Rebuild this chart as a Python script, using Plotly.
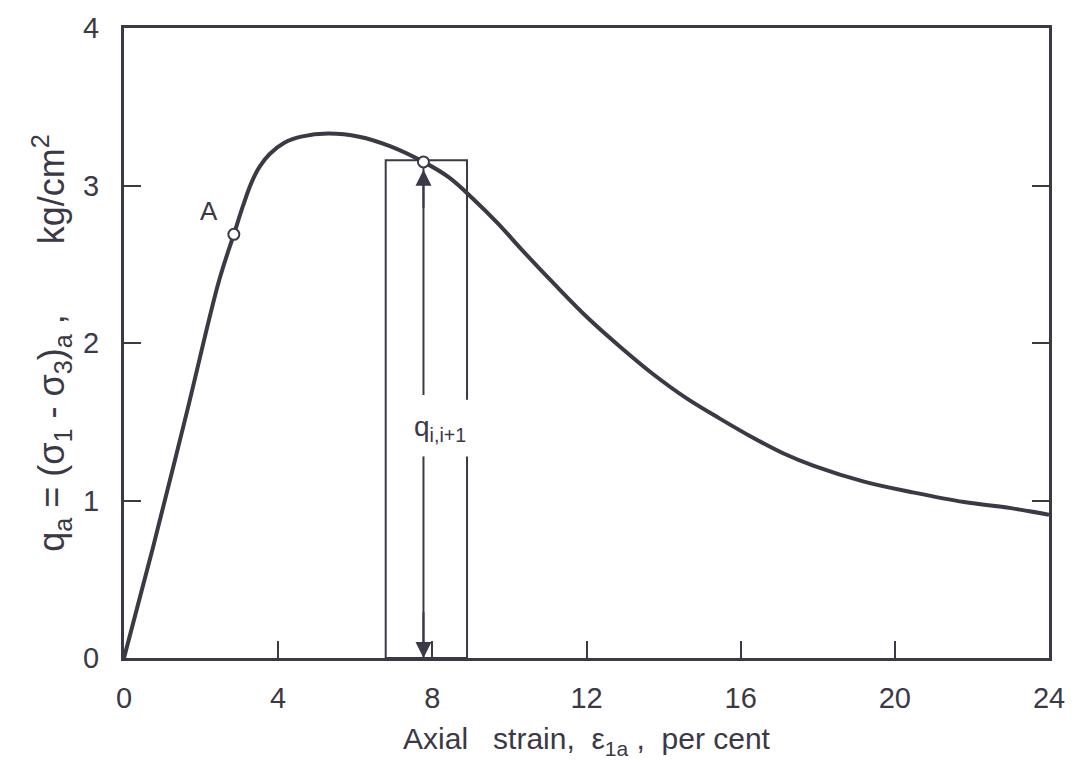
import plotly.graph_objects as go

# ---- data ----
strain = [0, 0.75, 1.62, 2.46, 2.85, 3.1, 3.31, 3.52, 3.78, 4.15, 4.6, 5.3, 6.1,
          6.9, 7.77, 8.44, 9.08, 9.7, 10.33, 11.18, 12.03, 12.9, 13.74, 14.59,
          15.46, 16.31, 17.1, 17.9, 19.2, 20.5, 21.8, 23.05, 24.0]
stress = [0, 0.70, 1.55, 2.39, 2.69, 2.88, 3.02, 3.12, 3.20, 3.27, 3.31, 3.33, 3.31,
          3.25, 3.15, 3.05, 2.91, 2.76, 2.59, 2.37, 2.16, 1.97, 1.80, 1.65,
          1.52, 1.40, 1.30, 1.22, 1.12, 1.05, 0.99, 0.95, 0.91]

marked_x = [2.85, 7.77]
marked_y = [2.69, 3.15]

rect_left = 6.79
rect_right = 8.9
rect_top = 3.16
rect_gap = [1.28, 1.64]     # break in right side of the bar around the label
arrow_x = 7.77
arrow_gap = [1.28, 1.67]    # break in the double arrow around the label

x_ticks = [0, 4, 8, 12, 16, 20, 24]
y_ticks = [0, 1, 2, 3, 4]

INK = "#3b3946"
FONT = "Liberation Sans, Arial, sans-serif"
SP = "&nbsp;"

fig = go.Figure()

fig.add_trace(go.Scatter(
    x=[rect_right, rect_right, rect_left, rect_left, rect_right, rect_right],
    y=[rect_gap[1], rect_top, rect_top, 0, 0, rect_gap[0]],
    mode="lines", line=dict(color=INK, width=2), hoverinfo="skip", showlegend=False))

fig.add_trace(go.Scatter(x=[arrow_x, arrow_x], y=[arrow_gap[1], marked_y[1] - 0.02],
                         mode="lines", line=dict(color=INK, width=2),
                         hoverinfo="skip", showlegend=False))
fig.add_trace(go.Scatter(x=[arrow_x, arrow_x], y=[arrow_gap[0], 0],
                         mode="lines", line=dict(color=INK, width=2),
                         hoverinfo="skip", showlegend=False))

fig.add_trace(go.Scatter(x=strain, y=stress, mode="lines",
                         line=dict(color=INK, width=4, shape="spline", smoothing=1.0),
                         showlegend=False))

fig.add_trace(go.Scatter(x=marked_x, y=marked_y, mode="markers",
                         marker=dict(size=11, color="white", line=dict(color=INK, width=2)),
                         showlegend=False))

fig.add_trace(go.Scatter(x=[0], y=[0], yaxis="y2", mode="markers",
                         marker=dict(opacity=0), hoverinfo="skip", showlegend=False))

annotations = [
    dict(x=2.2, y=2.84, text="A", showarrow=False, xref="x", yref="y",
         font=dict(family=FONT, size=26, color=INK)),
    dict(x=8.2, y=1.46, text="q<sub>i,i+1</sub>", showarrow=False, xref="x", yref="y",
         font=dict(family=FONT, size=28, color=INK)),
    dict(x=arrow_x, y=marked_y[1] - 0.05, ax=arrow_x, ay=marked_y[1] - 0.3,
         xref="x", yref="y", axref="x", ayref="y", text="", showarrow=True,
         arrowhead=2, arrowsize=1.6, arrowwidth=2, arrowcolor=INK),
    dict(x=arrow_x, y=0.0, ax=arrow_x, ay=0.3,
         xref="x", yref="y", axref="x", ayref="y", text="", showarrow=True,
         arrowhead=2, arrowsize=1.6, arrowwidth=2, arrowcolor=INK),
]

ytitle = ("q<sub>a</sub>" + SP + "=" + SP + "(σ<sub>1</sub>" + SP + "-" + SP +
          "σ<sub>3</sub>)<sub>a</sub>" + SP + "," + SP * 7 + "kg/cm<sup>2</sup>")
xtitle = ("Axial" + SP * 3 + "strain," + SP * 2 + "ε<sub>1a</sub>" + SP + "," +
          SP * 2 + "per" + SP + "cent")

fig.update_layout(
    width=1077, height=766,
    margin=dict(l=124, r=17, t=20, b=108),
    paper_bgcolor="white", plot_bgcolor="white",
    font=dict(family=FONT, color=INK),
    annotations=annotations,
    xaxis=dict(range=[0, 24], tickvals=x_ticks, ticktext=[str(v) for v in x_ticks],
               ticks="inside", ticklen=17, tickwidth=2, tickcolor=INK,
               showline=True, linewidth=3, linecolor=INK, mirror=True,
               showgrid=False, zeroline=False,
               tickfont=dict(size=29, color=INK), ticklabelstandoff=12,
               title=dict(text=xtitle, font=dict(size=30, color=INK), standoff=16)),
    yaxis=dict(range=[0, 4], tickvals=y_ticks, ticktext=[str(v) for v in y_ticks],
               ticks="inside", ticklen=17, tickwidth=2, tickcolor=INK,
               showline=True, linewidth=3, linecolor=INK, mirror=True,
               showgrid=False, zeroline=False,
               tickfont=dict(size=29, color=INK), ticklabelstandoff=16,
               title=dict(text=ytitle, font=dict(size=36, color=INK), standoff=8)),
    yaxis2=dict(range=[0, 4], overlaying="y", side="right", tickvals=[1, 2, 3],
                ticks="inside", ticklen=17, tickwidth=2, tickcolor=INK,
                showticklabels=False, showgrid=False, zeroline=False, showline=False),
)

fig.write_html("out.html")
